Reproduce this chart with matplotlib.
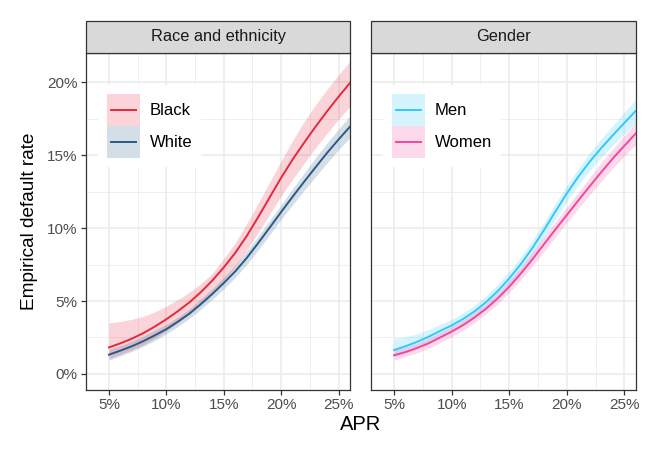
import matplotlib
matplotlib.use("Agg")
import matplotlib.pyplot as plt
from matplotlib.patches import Rectangle
from matplotlib.lines import Line2D
from matplotlib.legend_handler import HandlerBase
from matplotlib.ticker import FuncFormatter, MultipleLocator

plt.rcParams['font.family'] = ['Liberation Sans', 'DejaVu Sans']

# ---------------- data ----------------
apr = [5, 6, 7, 8, 9, 10, 11, 12, 13, 14, 15, 16, 17, 18, 19, 20, 21, 22, 23, 24, 25, 26]

black_fit = [1.82, 2.1, 2.42, 2.8, 3.25, 3.75, 4.3, 4.9, 5.6, 6.4, 7.3, 8.3, 9.45, 10.75, 12.1, 13.45, 14.7, 15.85, 16.95, 18.0, 19.0, 19.95]
black_lo = [1.05, 1.35, 1.65, 2.0, 2.45, 2.95, 3.5, 4.1, 4.75, 5.5, 6.4, 7.35, 8.45, 9.7, 10.95, 12.2, 13.35, 14.45, 15.5, 16.5, 17.45, 18.35]
black_hi = [3.5, 3.6, 3.75, 3.95, 4.25, 4.65, 5.1, 5.6, 6.2, 6.9, 7.9, 9.0, 10.3, 11.7, 13.15, 14.6, 16.0, 17.3, 18.45, 19.5, 20.5, 21.45]

white_fit = [1.32, 1.6, 1.9, 2.25, 2.65, 3.07, 3.58, 4.13, 4.78, 5.48, 6.23, 7.03, 7.95, 8.97, 10.03, 11.1, 12.15, 13.17, 14.17, 15.15, 16.07, 16.95]
white_lo = [0.95, 1.25, 1.55, 1.9, 2.3, 2.75, 3.25, 3.8, 4.43, 5.12, 5.83, 6.62, 7.5, 8.5, 9.55, 10.6, 11.6, 12.58, 13.53, 14.47, 15.37, 16.2]
white_hi = [1.7, 1.95, 2.25, 2.6, 3.0, 3.4, 3.9, 4.45, 5.13, 5.84, 6.63, 7.45, 8.4, 9.45, 10.52, 11.6, 12.7, 13.77, 14.82, 15.84, 16.78, 17.7]

men_fit = [1.64, 1.9, 2.2, 2.55, 2.95, 3.33, 3.77, 4.3, 4.93, 5.68, 6.55, 7.52, 8.62, 9.85, 11.13, 12.38, 13.53, 14.57, 15.5, 16.37, 17.22, 18.05]
men_lo = [1.15, 1.45, 1.8, 2.15, 2.55, 2.95, 3.4, 3.9, 4.5, 5.23, 6.1, 7.03, 8.1, 9.33, 10.6, 11.83, 12.95, 13.97, 14.85, 15.67, 16.47, 17.25]
men_hi = [2.45, 2.55, 2.75, 3.05, 3.4, 3.75, 4.2, 4.73, 5.38, 6.15, 7.03, 8.03, 9.15, 10.38, 11.68, 12.93, 14.1, 15.17, 16.15, 17.05, 17.95, 18.85]

women_fit = [1.28, 1.5, 1.78, 2.1, 2.5, 2.9, 3.35, 3.88, 4.48, 5.18, 5.98, 6.88, 7.85, 8.88, 9.9, 10.9, 11.9, 12.88, 13.85, 14.78, 15.65, 16.5]
women_lo = [0.95, 1.2, 1.45, 1.75, 2.15, 2.55, 3.0, 3.53, 4.13, 4.8, 5.58, 6.45, 7.38, 8.38, 9.38, 10.38, 11.35, 12.3, 13.22, 14.12, 14.95, 15.75]
women_hi = [1.65, 1.85, 2.1, 2.45, 2.85, 3.25, 3.7, 4.23, 4.85, 5.58, 6.4, 7.33, 8.33, 9.38, 10.43, 11.45, 12.47, 13.48, 14.5, 15.45, 16.35, 17.25]

panel_titles = ["Race and ethnicity", "Gender"]
x_ticks = [5, 10, 15, 20, 25]
y_ticks = [0, 5, 10, 15, 20]

panels = [
    [("Black", black_fit, black_lo, black_hi, "#E6283C"),
     ("White", white_fit, white_lo, white_hi, "#2B5A86")],
    [("Men", men_fit, men_lo, men_hi, "#32C8FA"),
     ("Women", women_fit, women_lo, women_hi, "#F5469B")],
]


class KeyHandler(HandlerBase):
    """ggplot-like key: translucent ribbon box with the line centred."""
    def create_artists(self, legend, orig_handle, xdescent, ydescent,
                       width, height, fontsize, trans):
        col = orig_handle.get_color()
        rect = Rectangle((-xdescent, -ydescent), width, height,
                         facecolor=col, alpha=0.2, lw=0, transform=trans)
        yc = -ydescent + height / 2
        pad = width * 0.12
        ln = Line2D([-xdescent + pad, -xdescent + width - pad], [yc, yc],
                    color=col, lw=1.4, transform=trans)
        return [rect, ln]


# ---------------- figure ----------------
W, H = 654, 458
fig = plt.figure(figsize=(W / 100, H / 100), dpi=100)

panel_px = [(86, 350), (371, 636)]
top_px, bot_px = 53, 390
strip_h = 32

pct = FuncFormatter(lambda v, p: f"{v:g}%")
dark = "#333333"

for i, (x0, x1) in enumerate(panel_px):
    ax = fig.add_axes([x0 / W, 1 - bot_px / H, (x1 - x0) / W, (bot_px - top_px) / H])
    ax.set_xlim(3.0, 26.0)
    ax.set_ylim(-1.1, 22.0)
    ax.xaxis.set_minor_locator(MultipleLocator(2.5))
    ax.yaxis.set_minor_locator(MultipleLocator(2.5))
    ax.set_xticks(x_ticks)
    ax.set_yticks(y_ticks)
    ax.xaxis.set_major_formatter(pct)
    ax.yaxis.set_major_formatter(pct)
    ax.grid(which="major", color="#EBEBEB", lw=1.1, zorder=0)
    ax.grid(which="minor", color="#EBEBEB", lw=0.55, zorder=0)
    ax.set_axisbelow(True)
    for s in ax.spines.values():
        s.set_color(dark)
        s.set_linewidth(0.9)
    ax.tick_params(which="major", length=3.5, width=0.9, color=dark,
                   labelcolor="#4D4D4D", labelsize=11, pad=2.5)
    ax.tick_params(which="minor", length=0)
    if i == 1:
        ax.tick_params(axis="y", which="both", left=False, labelleft=False)

    handles = []
    for name, fit, lo, hi, col in panels[i]:
        ax.fill_between(apr, lo, hi, color=col, alpha=0.2, lw=0, zorder=2)
        ln, = ax.plot(apr, fit, color=col, lw=1.4, zorder=3)
        handles.append(ln)
    leg = ax.legend(handles, [p[0] for p in panels[i]], loc="upper left",
                    bbox_to_anchor=(12 / (x1 - x0), 1 - 32 / (bot_px - top_px)),
                    borderaxespad=0, fontsize=12, frameon=True, fancybox=False,
                    framealpha=1, facecolor="white", edgecolor="none",
                    handlelength=1.95, handleheight=2.58, labelspacing=0,
                    handletextpad=0.6, borderpad=0.55,
                    handler_map={Line2D: KeyHandler()})
    leg.set_zorder(5)

    # strip
    sh = strip_h / (bot_px - top_px)
    ax.add_patch(Rectangle((0, 1), 1, sh, transform=ax.transAxes, clip_on=False,
                           facecolor="#D9D9D9", edgecolor=dark, lw=0.9, zorder=6))
    ax.text(0.5, 1 + sh / 2, panel_titles[i], transform=ax.transAxes,
            ha="center", va="center", fontsize=11.8, color="#1A1A1A", zorder=7)

fig.text(30 / W, 1 - 221 / H, "Empirical default rate", rotation=90,
         ha="center", va="center", fontsize=13.7)
fig.text(361 / W, 1 - 425 / H, "APR", ha="center", va="center", fontsize=14.5)

fig.savefig("out.png", dpi=100)
